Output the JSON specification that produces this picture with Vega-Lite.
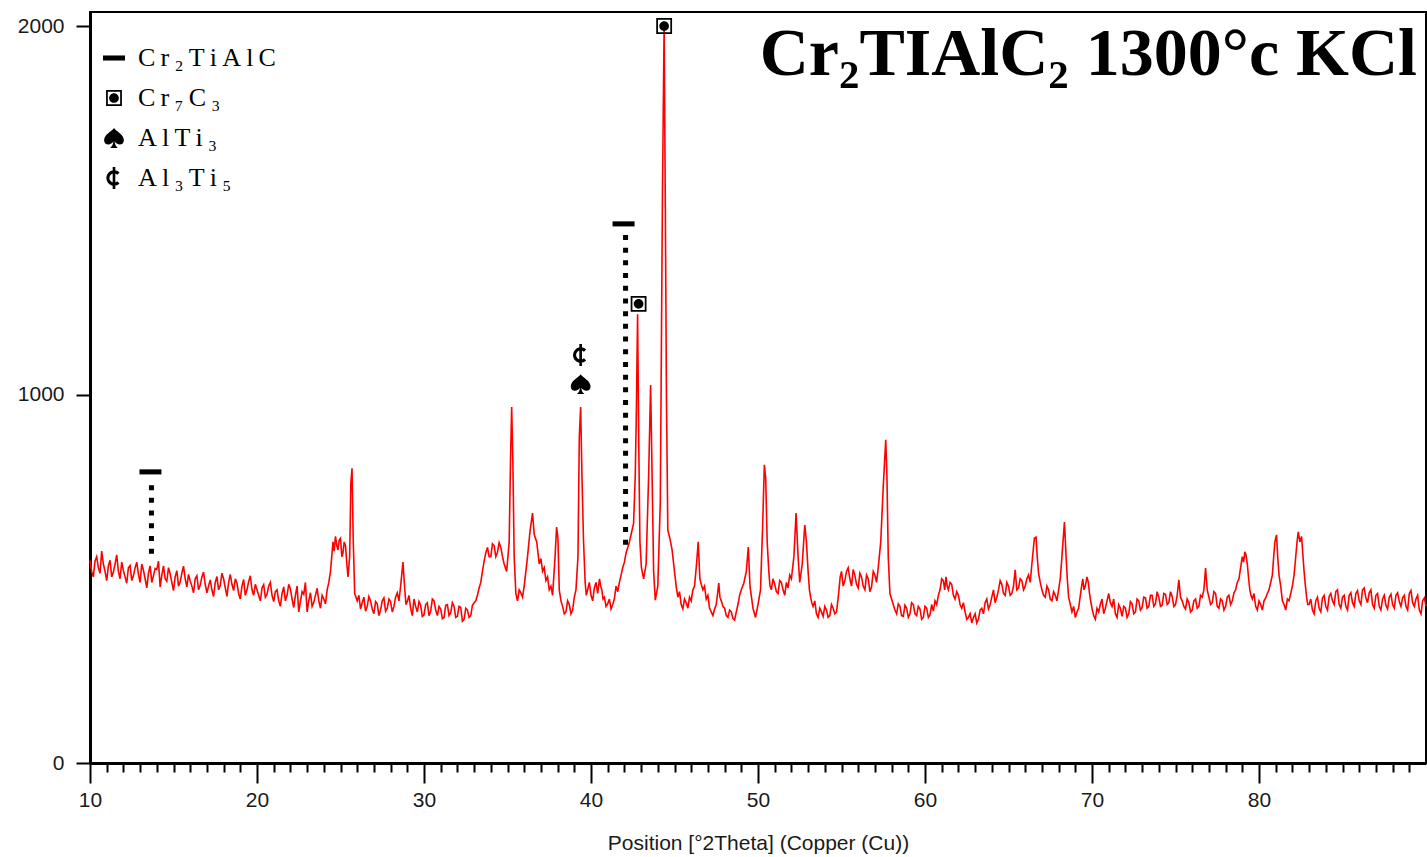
{
  "$schema": "https://vega.github.io/schema/vega-lite/v6.json",
  "width": 1336,
  "height": 751,
  "autosize": {"type": "none"},
  "padding": {"left": 90, "top": 12, "right": 1, "bottom": 94},
  "background": "white",
  "config": {
    "view": {"stroke": "black", "strokeWidth": 2},
    "font": "Liberation Sans"
  },
  "datasets": {
    "pattern": [
      {"x":10.0,"y":550},{"x":10.1,"y":520},{"x":10.2,"y":505},{"x":10.3,"y":548},{"x":10.4,"y":560},{"x":10.5,"y":530},{"x":10.6,"y":515},{"x":10.7,"y":575},{"x":10.8,"y":540},{"x":10.9,"y":520},
      {"x":11.0,"y":495},{"x":11.1,"y":535},{"x":11.2,"y":550},{"x":11.3,"y":505},{"x":11.4,"y":518},{"x":11.5,"y":540},{"x":11.6,"y":565},{"x":11.7,"y":520},{"x":11.8,"y":500},{"x":11.9,"y":545},
      {"x":12.0,"y":522},{"x":12.1,"y":505},{"x":12.2,"y":488},{"x":12.3,"y":530},{"x":12.4,"y":536},{"x":12.5,"y":495},{"x":12.6,"y":508},{"x":12.7,"y":530},{"x":12.8,"y":545},{"x":12.9,"y":512},
      {"x":13.0,"y":490},{"x":13.1,"y":540},{"x":13.2,"y":523},{"x":13.3,"y":500},{"x":13.4,"y":475},{"x":13.5,"y":515},{"x":13.6,"y":535},{"x":13.7,"y":490},{"x":13.8,"y":508},{"x":13.9,"y":528},
      {"x":14.0,"y":525},{"x":14.1,"y":548},{"x":14.2,"y":478},{"x":14.3,"y":510},{"x":14.4,"y":535},{"x":14.5,"y":500},{"x":14.6,"y":493},{"x":14.7,"y":530},{"x":14.8,"y":513},{"x":14.9,"y":490},
      {"x":15.0,"y":468},{"x":15.1,"y":505},{"x":15.2,"y":522},{"x":15.3,"y":480},{"x":15.4,"y":491},{"x":15.5,"y":515},{"x":15.6,"y":534},{"x":15.7,"y":500},{"x":15.8,"y":478},{"x":15.9,"y":512},
      {"x":16.0,"y":494},{"x":16.1,"y":480},{"x":16.2,"y":462},{"x":16.3,"y":500},{"x":16.4,"y":508},{"x":16.5,"y":470},{"x":16.6,"y":482},{"x":16.7,"y":505},{"x":16.8,"y":518},{"x":16.9,"y":485},
      {"x":17.0,"y":462},{"x":17.1,"y":480},{"x":17.2,"y":497},{"x":17.3,"y":470},{"x":17.4,"y":452},{"x":17.5,"y":490},{"x":17.6,"y":506},{"x":17.7,"y":470},{"x":17.8,"y":482},{"x":17.9,"y":515},
      {"x":18.0,"y":500},{"x":18.1,"y":475},{"x":18.2,"y":452},{"x":18.3,"y":490},{"x":18.4,"y":512},{"x":18.5,"y":485},{"x":18.6,"y":468},{"x":18.7,"y":500},{"x":18.8,"y":488},{"x":18.9,"y":460},
      {"x":19.0,"y":445},{"x":19.1,"y":480},{"x":19.2,"y":498},{"x":19.3,"y":455},{"x":19.4,"y":470},{"x":19.5,"y":492},{"x":19.6,"y":508},{"x":19.7,"y":470},{"x":19.8,"y":455},{"x":19.9,"y":485},
      {"x":20.0,"y":470},{"x":20.1,"y":455},{"x":20.2,"y":440},{"x":20.3,"y":475},{"x":20.4,"y":484},{"x":20.5,"y":450},{"x":20.6,"y":458},{"x":20.7,"y":480},{"x":20.8,"y":490},{"x":20.9,"y":455},
      {"x":21.0,"y":438},{"x":21.1,"y":465},{"x":21.2,"y":470},{"x":21.3,"y":440},{"x":21.4,"y":425},{"x":21.5,"y":460},{"x":21.6,"y":478},{"x":21.7,"y":440},{"x":21.8,"y":455},{"x":21.9,"y":485},
      {"x":22.0,"y":472},{"x":22.1,"y":445},{"x":22.2,"y":422},{"x":22.3,"y":455},{"x":22.4,"y":480},{"x":22.5,"y":410},{"x":22.6,"y":438},{"x":22.7,"y":465},{"x":22.8,"y":458},{"x":22.9,"y":490},
      {"x":23.0,"y":410},{"x":23.1,"y":440},{"x":23.2,"y":462},{"x":23.3,"y":425},{"x":23.4,"y":436},{"x":23.5,"y":455},{"x":23.6,"y":474},{"x":23.7,"y":440},{"x":23.8,"y":420},{"x":23.9,"y":455},
      {"x":24.0,"y":445},{"x":24.1,"y":432},{"x":24.2,"y":470},{"x":24.3,"y":490},{"x":24.4,"y":520},
      {"x":24.55,"y":600},{"x":24.62,"y":575},{"x":24.7,"y":615},{"x":24.78,"y":590},{"x":24.85,"y":578},{"x":24.92,"y":605},{"x":25.0,"y":610},{"x":25.08,"y":560},{"x":25.15,"y":570},{"x":25.22,"y":600},
      {"x":25.3,"y":590},{"x":25.38,"y":540},{"x":25.45,"y":505},{"x":25.55,"y":560},{"x":25.62,"y":760},{"x":25.69,"y":800},{"x":25.76,"y":610},{"x":25.85,"y":460},
      {"x":26.0,"y":440},{"x":26.1,"y":455},{"x":26.2,"y":418},{"x":26.3,"y":435},{"x":26.4,"y":450},{"x":26.5,"y":412},{"x":26.6,"y":425},{"x":26.7,"y":452},{"x":26.8,"y":440},{"x":26.9,"y":418},
      {"x":27.0,"y":405},{"x":27.1,"y":438},{"x":27.2,"y":432},{"x":27.3,"y":400},{"x":27.4,"y":415},{"x":27.5,"y":440},{"x":27.6,"y":448},{"x":27.7,"y":412},{"x":27.8,"y":420},{"x":27.9,"y":445},
      {"x":28.0,"y":438},{"x":28.1,"y":410},{"x":28.2,"y":425},{"x":28.3,"y":450},{"x":28.4,"y":462},{"x":28.5,"y":440},{"x":28.6,"y":480},{"x":28.74,"y":545},{"x":28.85,"y":470},{"x":28.92,"y":430},
      {"x":29.0,"y":438},{"x":29.1,"y":455},{"x":29.2,"y":420},{"x":29.3,"y":400},{"x":29.4,"y":445},{"x":29.5,"y":425},{"x":29.6,"y":410},{"x":29.7,"y":438},{"x":29.8,"y":428},{"x":29.9,"y":398},
      {"x":30.0,"y":402},{"x":30.1,"y":430},{"x":30.2,"y":435},{"x":30.3,"y":400},{"x":30.4,"y":412},{"x":30.5,"y":445},{"x":30.6,"y":440},{"x":30.7,"y":415},{"x":30.8,"y":400},{"x":30.9,"y":425},
      {"x":31.0,"y":418},{"x":31.1,"y":392},{"x":31.2,"y":395},{"x":31.3,"y":428},{"x":31.4,"y":430},{"x":31.5,"y":400},{"x":31.6,"y":408},{"x":31.7,"y":435},{"x":31.8,"y":425},{"x":31.9,"y":395},
      {"x":32.0,"y":398},{"x":32.1,"y":425},{"x":32.2,"y":422},{"x":32.3,"y":385},{"x":32.4,"y":390},{"x":32.5,"y":420},{"x":32.6,"y":415},{"x":32.7,"y":395},{"x":32.8,"y":400},{"x":32.9,"y":428},
      {"x":33.0,"y":435},{"x":33.1,"y":440},{"x":33.2,"y":455},{"x":33.3,"y":475},{"x":33.4,"y":490},{"x":33.5,"y":520},{"x":33.6,"y":548},{"x":33.7,"y":570},{"x":33.8,"y":585},{"x":33.9,"y":560},
      {"x":34.0,"y":560},{"x":34.1,"y":595},{"x":34.2,"y":590},{"x":34.3,"y":560},{"x":34.4,"y":572},{"x":34.5,"y":598},{"x":34.6,"y":585},{"x":34.7,"y":560},{"x":34.8,"y":540},{"x":34.95,"y":520},
      {"x":35.1,"y":600},{"x":35.18,"y":820},{"x":35.25,"y":966},{"x":35.32,"y":820},{"x":35.4,"y":560},{"x":35.5,"y":460},{"x":35.6,"y":440},{"x":35.7,"y":470},{"x":35.8,"y":462},{"x":35.9,"y":450},
      {"x":36.0,"y":480},{"x":36.2,"y":560},{"x":36.35,"y":630},{"x":36.5,"y":678},{"x":36.6,"y":620},{"x":36.75,"y":600},{"x":36.9,"y":540},{"x":37.0,"y":555},{"x":37.1,"y":520},{"x":37.2,"y":530},
      {"x":37.3,"y":495},{"x":37.4,"y":505},{"x":37.5,"y":470},{"x":37.6,"y":480},{"x":37.7,"y":455},{"x":37.85,"y":560},{"x":37.94,"y":640},{"x":38.02,"y":610},{"x":38.1,"y":470},{"x":38.2,"y":440},
      {"x":38.3,"y":425},{"x":38.4,"y":405},{"x":38.5,"y":410},{"x":38.6,"y":440},{"x":38.7,"y":430},{"x":38.8,"y":405},{"x":38.9,"y":415},{"x":39.0,"y":450},{"x":39.1,"y":470},
      {"x":39.22,"y":560},{"x":39.3,"y":885},{"x":39.38,"y":966},{"x":39.46,"y":776},{"x":39.55,"y":605},{"x":39.65,"y":490},{"x":39.72,"y":455},{"x":39.8,"y":470},{"x":39.9,"y":490},
      {"x":40.0,"y":455},{"x":40.1,"y":440},{"x":40.2,"y":475},{"x":40.3,"y":490},{"x":40.4,"y":460},{"x":40.51,"y":500},{"x":40.58,"y":480},{"x":40.65,"y":470},{"x":40.72,"y":445},{"x":40.8,"y":450},
      {"x":40.9,"y":425},{"x":41.0,"y":432},{"x":41.1,"y":445},{"x":41.2,"y":418},{"x":41.3,"y":430},{"x":41.4,"y":445},{"x":41.5,"y":480},{"x":41.6,"y":465},{"x":41.7,"y":490},{"x":41.8,"y":510},
      {"x":41.9,"y":530},{"x":42.0,"y":545},{"x":42.1,"y":570},{"x":42.2,"y":585},{"x":42.3,"y":600},{"x":42.4,"y":620},{"x":42.55,"y":650},{"x":42.65,"y":780},{"x":42.72,"y":963},{"x":42.79,"y":1218},
      {"x":42.86,"y":866},{"x":42.93,"y":600},{"x":43.02,"y":530},{"x":43.15,"y":500},{"x":43.3,"y":540},{"x":43.45,"y":776},{"x":43.57,"y":1026},{"x":43.66,"y":776},{"x":43.75,"y":520},{"x":43.85,"y":442},
      {"x":44.0,"y":480},{"x":44.15,"y":708},{"x":44.28,"y":1551},{"x":44.38,"y":2010},{"x":44.45,"y":1517},{"x":44.52,"y":985},{"x":44.6,"y":632},{"x":44.72,"y":610},{"x":44.85,"y":580},
      {"x":45.0,"y":520},{"x":45.1,"y":480},{"x":45.2,"y":450},{"x":45.3,"y":465},{"x":45.4,"y":430},{"x":45.5,"y":418},{"x":45.6,"y":445},{"x":45.7,"y":435},{"x":45.8,"y":420},{"x":45.9,"y":450},
      {"x":46.0,"y":440},{"x":46.1,"y":470},{"x":46.2,"y":480},{"x":46.32,"y":540},{"x":46.42,"y":600},{"x":46.52,"y":500},{"x":46.6,"y":485},{"x":46.7,"y":470},{"x":46.8,"y":480},{"x":46.9,"y":445},
      {"x":47.0,"y":455},{"x":47.1,"y":420},{"x":47.2,"y":410},{"x":47.3,"y":400},{"x":47.4,"y":418},{"x":47.5,"y":430},{"x":47.58,"y":460},{"x":47.65,"y":488},{"x":47.72,"y":450},{"x":47.8,"y":440},
      {"x":47.9,"y":425},{"x":48.0,"y":420},{"x":48.1,"y":400},{"x":48.2,"y":395},{"x":48.3,"y":415},{"x":48.4,"y":410},{"x":48.5,"y":392},{"x":48.6,"y":388},{"x":48.7,"y":410},{"x":48.8,"y":430},
      {"x":48.9,"y":455},{"x":49.0,"y":470},{"x":49.15,"y":488},{"x":49.3,"y":520},{"x":49.42,"y":586},{"x":49.52,"y":480},{"x":49.7,"y":420},{"x":49.85,"y":395},{"x":50.0,"y":430},{"x":50.15,"y":470},
      {"x":50.28,"y":646},{"x":50.38,"y":809},{"x":50.46,"y":773},{"x":50.55,"y":600},{"x":50.65,"y":518},{"x":50.72,"y":480},{"x":50.8,"y":470},{"x":50.9,"y":500},{"x":51.0,"y":485},{"x":51.1,"y":465},
      {"x":51.2,"y":460},{"x":51.3,"y":495},{"x":51.4,"y":490},{"x":51.5,"y":470},{"x":51.6,"y":455},{"x":51.7,"y":490},{"x":51.8,"y":475},{"x":51.9,"y":510},{"x":52.0,"y":500},{"x":52.15,"y":560},
      {"x":52.28,"y":678},{"x":52.4,"y":560},{"x":52.5,"y":490},{"x":52.65,"y":540},{"x":52.8,"y":646},{"x":52.9,"y":600},{"x":53.0,"y":520},{"x":53.08,"y":470},{"x":53.15,"y":450},{"x":53.22,"y":435},
      {"x":53.3,"y":425},{"x":53.4,"y":440},{"x":53.5,"y":405},{"x":53.6,"y":395},{"x":53.7,"y":420},{"x":53.8,"y":410},{"x":53.9,"y":398},{"x":54.0,"y":425},{"x":54.1,"y":415},{"x":54.2,"y":395},
      {"x":54.3,"y":400},{"x":54.4,"y":430},{"x":54.5,"y":420},{"x":54.6,"y":405},{"x":54.7,"y":410},{"x":54.78,"y":440},{"x":54.85,"y":470},{"x":54.92,"y":505},{"x":55.0,"y":520},{"x":55.1,"y":480},
      {"x":55.2,"y":495},{"x":55.3,"y":520},{"x":55.4,"y":530},{"x":55.5,"y":500},{"x":55.6,"y":480},{"x":55.7,"y":525},{"x":55.8,"y":510},{"x":55.9,"y":485},{"x":56.0,"y":475},{"x":56.1,"y":515},
      {"x":56.2,"y":505},{"x":56.3,"y":480},{"x":56.4,"y":470},{"x":56.5,"y":510},{"x":56.6,"y":500},{"x":56.7,"y":465},{"x":56.8,"y":478},{"x":56.9,"y":520},{"x":57.0,"y":510},{"x":57.1,"y":490},
      {"x":57.2,"y":530},{"x":57.35,"y":600},{"x":57.5,"y":750},{"x":57.65,"y":877},{"x":57.72,"y":780},{"x":57.8,"y":560},{"x":57.9,"y":460},{"x":58.0,"y":445},{"x":58.1,"y":430},{"x":58.2,"y":415},
      {"x":58.3,"y":405},{"x":58.4,"y":432},{"x":58.5,"y":425},{"x":58.6,"y":400},{"x":58.7,"y":398},{"x":58.8,"y":428},{"x":58.9,"y":420},{"x":59.0,"y":395},{"x":59.1,"y":405},{"x":59.2,"y":435},
      {"x":59.3,"y":430},{"x":59.4,"y":405},{"x":59.5,"y":400},{"x":59.6,"y":425},{"x":59.7,"y":418},{"x":59.8,"y":390},{"x":59.9,"y":395},{"x":60.0,"y":425},{"x":60.1,"y":420},{"x":60.2,"y":395},
      {"x":60.3,"y":402},{"x":60.4,"y":430},{"x":60.5,"y":412},{"x":60.6,"y":440},{"x":60.7,"y":430},{"x":60.8,"y":455},{"x":60.9,"y":470},{"x":61.0,"y":500},{"x":61.1,"y":495},{"x":61.18,"y":470},
      {"x":61.26,"y":505},{"x":61.33,"y":480},{"x":61.4,"y":470},{"x":61.5,"y":490},{"x":61.6,"y":485},{"x":61.7,"y":455},{"x":61.8,"y":445},{"x":61.9,"y":465},{"x":62.0,"y":455},{"x":62.1,"y":430},
      {"x":62.2,"y":420},{"x":62.3,"y":435},{"x":62.4,"y":410},{"x":62.5,"y":390},{"x":62.6,"y":395},{"x":62.7,"y":405},{"x":62.8,"y":380},{"x":62.9,"y":395},{"x":63.0,"y":405},{"x":63.1,"y":380},
      {"x":63.2,"y":390},{"x":63.3,"y":415},{"x":63.4,"y":420},{"x":63.5,"y":405},{"x":63.6,"y":435},{"x":63.7,"y":445},{"x":63.8,"y":418},{"x":63.9,"y":430},{"x":64.0,"y":450},{"x":64.1,"y":470},
      {"x":64.2,"y":435},{"x":64.3,"y":450},{"x":64.4,"y":470},{"x":64.5,"y":495},{"x":64.6,"y":485},{"x":64.7,"y":460},{"x":64.8,"y":455},{"x":64.9,"y":490},{"x":65.0,"y":480},{"x":65.1,"y":455},
      {"x":65.2,"y":460},{"x":65.3,"y":480},{"x":65.4,"y":524},{"x":65.5,"y":470},{"x":65.6,"y":475},{"x":65.7,"y":500},{"x":65.8,"y":495},{"x":65.9,"y":470},{"x":66.0,"y":480},{"x":66.1,"y":500},
      {"x":66.2,"y":510},{"x":66.3,"y":490},{"x":66.4,"y":540},{"x":66.55,"y":610},{"x":66.65,"y":613},{"x":66.72,"y":560},{"x":66.8,"y":515},{"x":66.9,"y":490},{"x":67.0,"y":470},{"x":67.1,"y":455},
      {"x":67.2,"y":450},{"x":67.3,"y":480},{"x":67.4,"y":470},{"x":67.5,"y":445},{"x":67.6,"y":440},{"x":67.7,"y":465},{"x":67.8,"y":455},{"x":67.9,"y":440},{"x":68.0,"y":470},{"x":68.1,"y":500},
      {"x":68.2,"y":560},{"x":68.35,"y":654},{"x":68.45,"y":559},{"x":68.52,"y":500},{"x":68.6,"y":450},{"x":68.7,"y":430},{"x":68.8,"y":410},{"x":68.9,"y":425},{"x":69.0,"y":395},{"x":69.1,"y":410},
      {"x":69.2,"y":420},{"x":69.3,"y":455},{"x":69.38,"y":480},{"x":69.45,"y":500},{"x":69.52,"y":470},{"x":69.6,"y":480},{"x":69.7,"y":505},{"x":69.78,"y":490},{"x":69.85,"y":460},{"x":69.92,"y":440},
      {"x":70.0,"y":420},{"x":70.1,"y":400},{"x":70.2,"y":390},{"x":70.3,"y":420},{"x":70.4,"y":410},{"x":70.5,"y":430},{"x":70.6,"y":445},{"x":70.7,"y":405},{"x":70.8,"y":420},{"x":70.9,"y":440},
      {"x":71.0,"y":460},{"x":71.1,"y":435},{"x":71.2,"y":425},{"x":71.3,"y":445},{"x":71.4,"y":405},{"x":71.5,"y":395},{"x":71.6,"y":430},{"x":71.7,"y":420},{"x":71.8,"y":398},{"x":71.9,"y":425},
      {"x":72.0,"y":420},{"x":72.1,"y":395},{"x":72.2,"y":405},{"x":72.3,"y":438},{"x":72.4,"y":432},{"x":72.5,"y":405},{"x":72.6,"y":410},{"x":72.7,"y":445},{"x":72.8,"y":440},{"x":72.9,"y":415},
      {"x":73.0,"y":422},{"x":73.1,"y":450},{"x":73.2,"y":448},{"x":73.3,"y":420},{"x":73.4,"y":425},{"x":73.5,"y":455},{"x":73.6,"y":455},{"x":73.7,"y":425},{"x":73.8,"y":432},{"x":73.9,"y":465},
      {"x":74.0,"y":450},{"x":74.1,"y":425},{"x":74.2,"y":428},{"x":74.3,"y":460},{"x":74.4,"y":458},{"x":74.5,"y":430},{"x":74.6,"y":435},{"x":74.7,"y":465},{"x":74.8,"y":452},{"x":74.9,"y":425},
      {"x":75.0,"y":430},{"x":75.1,"y":455},{"x":75.2,"y":497},{"x":75.3,"y":450},{"x":75.4,"y":440},{"x":75.5,"y":425},{"x":75.6,"y":418},{"x":75.7,"y":445},{"x":75.8,"y":435},{"x":75.9,"y":410},
      {"x":76.0,"y":415},{"x":76.1,"y":440},{"x":76.2,"y":445},{"x":76.3,"y":420},{"x":76.4,"y":425},{"x":76.5,"y":455},{"x":76.6,"y":450},{"x":76.7,"y":470},{"x":76.8,"y":529},{"x":76.9,"y":470},
      {"x":77.0,"y":450},{"x":77.1,"y":430},{"x":77.2,"y":435},{"x":77.3,"y":465},{"x":77.4,"y":460},{"x":77.5,"y":425},{"x":77.6,"y":420},{"x":77.7,"y":445},{"x":77.8,"y":440},{"x":77.9,"y":415},
      {"x":78.0,"y":425},{"x":78.1,"y":450},{"x":78.2,"y":455},{"x":78.3,"y":430},{"x":78.4,"y":440},{"x":78.5,"y":462},{"x":78.6,"y":470},{"x":78.7,"y":490},{"x":78.8,"y":500},{"x":78.9,"y":530},
      {"x":79.0,"y":560},{"x":79.08,"y":545},{"x":79.15,"y":573},{"x":79.22,"y":565},{"x":79.3,"y":540},{"x":79.38,"y":500},{"x":79.45,"y":470},{"x":79.52,"y":455},{"x":79.6,"y":445},{"x":79.7,"y":460},
      {"x":79.8,"y":425},{"x":79.9,"y":415},{"x":80.0,"y":440},{"x":80.1,"y":430},{"x":80.2,"y":415},{"x":80.3,"y":440},{"x":80.4,"y":448},{"x":80.5,"y":460},{"x":80.6,"y":470},{"x":80.7,"y":490},
      {"x":80.8,"y":510},{"x":80.88,"y":560},{"x":80.95,"y":600},{"x":81.05,"y":619},{"x":81.12,"y":560},{"x":81.2,"y":510},{"x":81.3,"y":480},{"x":81.4,"y":440},{"x":81.5,"y":430},{"x":81.6,"y":415},
      {"x":81.7,"y":445},{"x":81.8,"y":440},{"x":81.9,"y":460},{"x":82.0,"y":480},{"x":82.1,"y":510},{"x":82.2,"y":560},{"x":82.28,"y":600},{"x":82.35,"y":627},{"x":82.45,"y":600},{"x":82.55,"y":615},
      {"x":82.62,"y":570},{"x":82.7,"y":520},{"x":82.78,"y":480},{"x":82.85,"y":450},{"x":82.92,"y":430},{"x":83.0,"y":430},{"x":83.1,"y":445},{"x":83.2,"y":415},{"x":83.3,"y":405},{"x":83.4,"y":440},
      {"x":83.5,"y":450},{"x":83.6,"y":420},{"x":83.7,"y":410},{"x":83.8,"y":448},{"x":83.9,"y":455},{"x":84.0,"y":425},{"x":84.1,"y":415},{"x":84.2,"y":452},{"x":84.3,"y":460},{"x":84.4,"y":440},
      {"x":84.5,"y":430},{"x":84.6,"y":465},{"x":84.7,"y":470},{"x":84.8,"y":430},{"x":84.9,"y":420},{"x":85.0,"y":450},{"x":85.1,"y":455},{"x":85.2,"y":425},{"x":85.3,"y":415},{"x":85.4,"y":455},
      {"x":85.5,"y":462},{"x":85.6,"y":435},{"x":85.7,"y":425},{"x":85.8,"y":460},{"x":85.9,"y":468},{"x":86.0,"y":440},{"x":86.1,"y":430},{"x":86.2,"y":470},{"x":86.3,"y":475},{"x":86.4,"y":448},
      {"x":86.5,"y":435},{"x":86.6,"y":462},{"x":86.7,"y":470},{"x":86.8,"y":430},{"x":86.9,"y":420},{"x":87.0,"y":455},{"x":87.1,"y":460},{"x":87.2,"y":425},{"x":87.3,"y":415},{"x":87.4,"y":445},
      {"x":87.5,"y":455},{"x":87.6,"y":428},{"x":87.7,"y":418},{"x":87.8,"y":450},{"x":87.9,"y":458},{"x":88.0,"y":430},{"x":88.1,"y":420},{"x":88.2,"y":455},{"x":88.3,"y":462},{"x":88.4,"y":438},
      {"x":88.5,"y":425},{"x":88.6,"y":448},{"x":88.7,"y":455},{"x":88.8,"y":425},{"x":88.9,"y":415},{"x":89.0,"y":460},{"x":89.1,"y":468},{"x":89.2,"y":435},{"x":89.3,"y":425},{"x":89.4,"y":445},
      {"x":89.5,"y":455},{"x":89.6,"y":415},{"x":89.7,"y":405},{"x":89.8,"y":440},{"x":89.9,"y":448},{"x":90.0,"y":425}
    ],
    "drops": [
      {"x": 13.68, "y": 754, "y2": 564},
      {"x": 42.07, "y": 1433, "y2": 592}
    ],
    "phases": [
      {"phase": "Cr₂TiAlC", "x": 13.62, "y": 790},
      {"phase": "Cr₂TiAlC", "x": 41.95, "y": 1463},
      {"phase": "Cr₇C₃", "x": 42.85, "y": 1246},
      {"phase": "Cr₇C₃", "x": 44.38, "y": 2000},
      {"phase": "AlTi₃", "x": 39.38, "y": 1028},
      {"phase": "Al₃Ti₅", "x": 39.38, "y": 1107}
    ],
    "heading": [
      {"label": "Cr₂TIAlC₂ 1300°c KCl", "x": 89.46, "y": 1867}
    ]
  },
  "layer": [
    {
      "data": {"name": "pattern"},
      "mark": {"type": "line", "color": "#ff0000", "strokeWidth": 1.6, "interpolate": "linear"},
      "encoding": {
        "x": {
          "field": "x", "type": "quantitative",
          "scale": {"domain": [10, 90], "nice": false, "zero": false},
          "axis": {
            "values": [10,11,12,13,14,15,16,17,18,19,20,21,22,23,24,25,26,27,28,29,30,31,32,33,34,35,36,37,38,39,40,41,42,43,44,45,46,47,48,49,50,51,52,53,54,55,56,57,58,59,60,61,62,63,64,65,66,67,68,69,70,71,72,73,74,75,76,77,78,79,80,81,82,83,84,85,86,87,88,89],
            "tickCount": 200,
            "format": "d",
            "labelExpr": "datum.value % 10 === 0 ? datum.label : ''",
            "labelFlush": false,
            "tickSize": {"condition": {"test": "datum.value % 10 === 0", "value": 20}, "value": 9},
            "tickColor": "black",
            "tickWidth": 2,
            "domainColor": "black",
            "domainWidth": 3,
            "grid": false,
            "labelOverlap": false,
            "labelFont": "Liberation Sans",
            "labelFontSize": 21,
            "labelColor": "#1a1a1a",
            "labelPadding": 6,
            "title": "Position [°2Theta] (Copper (Cu))",
            "titleFont": "Liberation Sans",
            "titleFontSize": 21,
            "titleFontWeight": "normal",
            "titleColor": "#1a1a1a",
            "titlePadding": 22
          }
        },
        "y": {
          "field": "y", "type": "quantitative",
          "scale": {"domain": [0, 2038], "nice": false},
          "axis": {
            "values": [0, 1000, 2000],
            "format": "d",
            "labelFlush": false,
            "tickSize": 14,
            "tickColor": "black",
            "tickWidth": 2,
            "domainColor": "black",
            "domainWidth": 3,
            "grid": false,
            "labelFont": "Liberation Sans",
            "labelFontSize": 21,
            "labelColor": "#1a1a1a",
            "labelPadding": 12,
            "title": null
          }
        }
      }
    },
    {
      "data": {"name": "drops"},
      "mark": {"type": "rule", "color": "black", "strokeWidth": 5, "strokeDash": [5, 7.7], "strokeCap": "butt"},
      "encoding": {
        "x": {"field": "x", "type": "quantitative"},
        "y": {"field": "y", "type": "quantitative"},
        "y2": {"field": "y2"}
      }
    },
    {
      "data": {"name": "phases"},
      "mark": {"type": "point", "filled": true, "color": "black", "opacity": 1, "size": 484, "strokeWidth": 0},
      "encoding": {
        "x": {"field": "x", "type": "quantitative"},
        "y": {"field": "y", "type": "quantitative"},
        "shape": {
          "field": "phase", "type": "nominal",
          "scale": {
            "domain": ["Cr₂TiAlC", "Cr₇C₃", "AlTi₃", "Al₃Ti₅"],
            "range": [
              "M-1,-0.23H1V0.23H-1Z",
              "M-0.72,-0.72H0.72V0.72H-0.72Z M-0.56,-0.56V0.56H0.56V-0.56Z M0.44,0A0.44,0.44 0 1,1 -0.44,0A0.44,0.44 0 1,1 0.44,0Z",
              "M0,-0.9C0.25,-0.55 0.9,-0.3 0.9,0.2C0.9,0.55 0.55,0.7 0.25,0.5C0.15,0.45 0.08,0.38 0.05,0.3C0.08,0.6 0.2,0.8 0.35,0.9L-0.35,0.9C-0.2,0.8 -0.08,0.6 -0.05,0.3C-0.08,0.38 -0.15,0.45 -0.25,0.5C-0.55,0.7 -0.9,0.55 -0.9,0.2C-0.9,-0.3 -0.25,-0.55 0,-0.9Z",
              "M0.5,-0.5A0.7,0.7 0 1,0 0.5,0.5L0.3,0.3A0.42,0.42 0 1,1 0.3,-0.3Z M-0.12,-1V1H0.12V-1Z"
            ]
          },
          "legend": {
            "title": null,
            "orient": "none",
            "legendX": 11,
            "legendY": 33,
            "symbolSize": 484,
            "symbolFillColor": "black",
            "symbolStrokeWidth": 0,
            "symbolOpacity": 1,
            "labelFont": "Liberation Serif",
            "labelFontSize": 26,
            "labelColor": "black",
            "labelExpr": "join(split(datum.label, ''), '\u2009')",
            "labelLimit": 400,
            "labelOffset": 11,
            "rowPadding": 14,
            "padding": 0
          }
        }
      }
    },
    {
      "data": {"name": "heading"},
      "mark": {"type": "text", "align": "right", "baseline": "alphabetic", "font": "Liberation Serif", "fontSize": 68, "fontWeight": "bold", "color": "black"},
      "encoding": {
        "x": {"field": "x", "type": "quantitative"},
        "y": {"field": "y", "type": "quantitative"},
        "text": {"field": "label"}
      }
    }
  ]
}
